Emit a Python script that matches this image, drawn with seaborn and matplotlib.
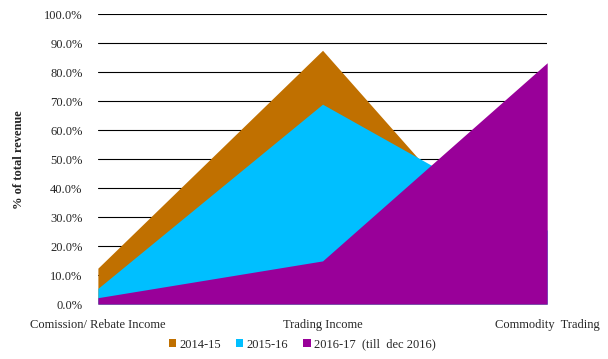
import matplotlib
matplotlib.use("Agg")
import matplotlib.pyplot as plt
import seaborn as sns
import numpy as np
from matplotlib.patches import Patch
from matplotlib.ticker import PercentFormatter

# Data (% of total revenue)
categories = ["Comission/ Rebate Income", "Trading Income", "Commodity  Trading"]
series_names = ["2014-15", "2015-16", "2016-17  (till  dec 2016)"]
fy_2014_15 = [12.4, 87.6, 0.0]
fy_2015_16 = [5.4, 69.0, 25.5]
fy_2016_17 = [2.2, 14.9, 83.3]
colors = ["#C07000", "#00BFFF", "#990099"]

sns.set_style("white")
plt.rcParams["font.family"] = ["Liberation Serif", "DejaVu Serif"]

fig = plt.figure(figsize=(6.08, 3.59), dpi=100)
ax = fig.add_axes([0.161, 0.153, 0.739, 0.807])

x = np.arange(len(categories))
for vals, name, c in zip([fy_2014_15, fy_2015_16, fy_2016_17], series_names, colors):
    ax.fill_between(x, 0, vals, color=c, linewidth=0, label=name, zorder=2)

ax.set_xlim(0, len(categories) - 1)
ax.set_ylim(0, 100)
ax.set_yticks(np.arange(0, 101, 10))
ax.yaxis.set_major_formatter(PercentFormatter(decimals=1))
ax.set_xticks(x)
ax.set_xticklabels(categories)
ax.tick_params(axis="y", labelsize=9, length=0, pad=11)
ax.tick_params(axis="x", labelsize=9, length=0, pad=11)
ax.grid(axis="y", color="black", linewidth=0.8, zorder=1)
ax.set_axisbelow(True)
for s in ax.spines.values():
    s.set_visible(False)

ax.set_ylabel("% of total revenue", fontsize=9, fontweight="bold", labelpad=14)

handles = [Patch(facecolor=c, edgecolor="none") for c in colors]
fig.legend(handles, series_names, loc="center", bbox_to_anchor=(0.497, 0.04),
           ncol=3, frameon=False, fontsize=9, handlelength=0.6, handleheight=0.6,
           handletextpad=0.25, columnspacing=1.2)

fig.savefig("out.png", dpi=100)
